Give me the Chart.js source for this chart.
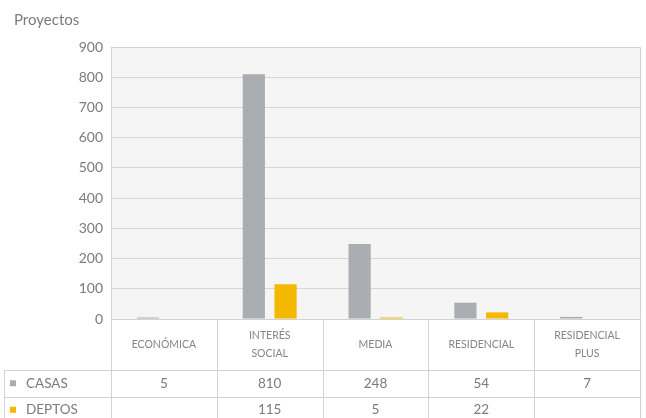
<!DOCTYPE html>
<html>
<head>
<meta charset="utf-8">
<script src="https://cdn.jsdelivr.net/npm/chart.js@4"></script>
<style>
  html, body { margin: 0; padding: 0; background: #ffffff; }
  #c { display: block; }
</style>
</head>
<body>
<canvas id="c" width="646" height="418"></canvas>
<script>
// ---- Data ----
const categories = [["ECONÓMICA"], ["INTERÉS", "SOCIAL"], ["MEDIA"], ["RESIDENCIAL"], ["RESIDENCIAL", "PLUS"]];
const seriesNames = ["CASAS", "DEPTOS"];
const casas = [5, 810, 248, 54, 7];
const deptos = [null, 115, 5, 22, null];
const yAxisTitle = "Proyectos";
const yMin = 0, yMax = 900, yStep = 100;

const seriesColors = ["#aaadb2", "#f4b800"];
const textGray = "#7b7b7b";
const lineGray = "#d2d2d2";

const tablePlugin = {
  id: "dataTable",
  beforeDraw(chart) {
    const { ctx, chartArea: a } = chart;
    ctx.save();
    ctx.fillStyle = "#f5f5f5";
    ctx.fillRect(a.left, a.top, a.right - a.left, a.bottom - a.top);
    ctx.restore();
  },
  afterDraw(chart) {
    const { ctx, chartArea: a, scales } = chart;
    const x = scales.x;
    const n = categories.length;
    const colW = (a.right - a.left) / n;
    const hdrTop = a.bottom;
    const hdrBottom = hdrTop + 51;
    const rowH = 26.5;
    const sets = [casas, deptos];
    const px = v => Math.round(v) + 0.5;

    ctx.save();
    // title
    ctx.fillStyle = textGray;
    ctx.font = "15px Lato";
    ctx.textAlign = "left";
    ctx.textBaseline = "middle";
    ctx.fillText(yAxisTitle, 14, 20);

    // plot frame
    ctx.strokeStyle = lineGray;
    ctx.lineWidth = 1;
    ctx.beginPath();
    ctx.moveTo(px(a.left), px(a.top)); ctx.lineTo(px(a.right), px(a.top));
    ctx.lineTo(px(a.right), px(a.bottom));
    ctx.stroke();

    // table lines
    ctx.beginPath();
    ctx.moveTo(px(a.left), px(hdrTop)); ctx.lineTo(px(a.right), px(hdrTop));
    for (let r = 0; r <= sets.length; r++) {
      const yy = px(hdrBottom + r * rowH);
      ctx.moveTo(4.5, yy); ctx.lineTo(px(a.right), yy);
    }
    const tableBottom = hdrBottom + sets.length * rowH;
    for (let i = 0; i < n; i++) {
      const xb = x.getPixelForValue(i) - colW / 2;
      ctx.moveTo(px(xb), px(a.bottom)); ctx.lineTo(px(xb), tableBottom);
    }
    ctx.moveTo(px(a.right), px(a.bottom)); ctx.lineTo(px(a.right), tableBottom);
    ctx.moveTo(4.5, px(hdrBottom)); ctx.lineTo(4.5, tableBottom);
    ctx.stroke();

    // category labels
    ctx.fillStyle = "#858585";
    ctx.font = "10.5px Lato";
    ctx.textAlign = "center";
    for (let i = 0; i < n; i++) {
      const cx = x.getPixelForValue(i);
      const lines = categories[i];
      const mid = (hdrTop + hdrBottom) / 2;
      const lh = 18;
      lines.forEach((t, k) => {
        ctx.fillText(t, cx, mid + (k - (lines.length - 1) / 2) * lh);
      });
    }

    // rows
    sets.forEach((arr, r) => {
      const cy = hdrBottom + r * rowH + rowH / 2;
      ctx.fillStyle = seriesColors[r];
      ctx.fillRect(10, cy - 3, 6, 6);
      ctx.fillStyle = textGray;
      ctx.font = "13.5px Lato";
      ctx.textAlign = "left";
      ctx.fillText(seriesNames[r], 26, cy);
      ctx.textAlign = "center";
      arr.forEach((v, i) => {
        if (v !== null && v !== undefined) ctx.fillText(String(v), x.getPixelForValue(i), cy);
      });
    });
    ctx.restore();
  }
};

new Chart(document.getElementById("c"), {
  type: "bar",
  data: {
    labels: categories.map(c => c.join(" ")),
    datasets: [
      { label: seriesNames[0], data: casas, backgroundColor: seriesColors[0] },
      { label: seriesNames[1], data: deptos, backgroundColor: seriesColors[1] }
    ]
  },
  options: {
    responsive: false,
    animation: false,
    layout: { padding: { top: 47, right: 6, bottom: 99, left: 0 } },
    datasets: { bar: { categoryPercentage: 0.6, barPercentage: 0.7 } },
    plugins: { legend: { display: false }, tooltip: { enabled: false }, title: { display: false } },
    scales: {
      x: { display: false },
      y: {
        min: yMin, max: yMax,
        ticks: { stepSize: yStep, color: textGray, font: { family: "Lato", size: 14 }, padding: 8 },
        grid: { color: "#d6d6d6", drawTicks: false },
        border: { display: true, color: lineGray },
        afterFit(scale) { scale.width = 111; }
      }
    }
  },
  plugins: [tablePlugin]
});
</script>
</body>
</html>
